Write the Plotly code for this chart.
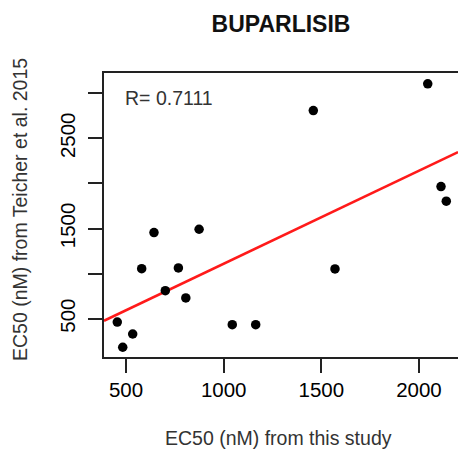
import numpy as np
import plotly.graph_objects as go

# Data
x_study = [455, 483, 534, 580, 643, 701, 768, 806, 874, 1044, 1164, 1459, 1570, 2045, 2113, 2140]
y_teicher = [463, 183, 330, 1055, 1455, 811, 1063, 730, 1492, 433, 433, 2808, 1052, 3105, 1965, 1803]
x_ticks = [500, 1000, 1500, 2000]
y_ticks = [500, 1000, 1500, 2000, 2500, 3000]
y_ticktext = ["500", "", "1500", "", "2500", ""]
title_text = "BUPARLISIB"
r_label = "R= 0.7111"

x_range = [387, 2200]
y_range = [75, 3225]

slope, intercept = np.polyfit(x_study, y_teicher, 1)
line_x = np.array(x_range, dtype=float)
line_y = slope * line_x + intercept

FONT = "Liberation Sans, Arial, sans-serif"

fig = go.Figure()
fig.add_trace(go.Scatter(x=line_x, y=line_y, mode="lines",
                         line=dict(color="#ff1a1a", width=2.5), hoverinfo="skip"))
fig.add_trace(go.Scatter(x=x_study, y=y_teicher, mode="markers",
                         marker=dict(color="black", size=9.5, line=dict(width=0))))

fig.update_layout(
    width=458, height=452,
    margin=dict(l=104, r=0, t=73, b=95),
    paper_bgcolor="white", plot_bgcolor="white",
    showlegend=False,
    font=dict(family=FONT, color="black", size=19),
    title=dict(text="<b>" + title_text + "</b>", x=0.5, xref="paper",
               y=1 - 24 / 452, yref="container", yanchor="middle", xanchor="center",
               font=dict(family=FONT, size=23, color="#111")),
)
fig.update_xaxes(range=x_range, tickvals=x_ticks, ticks="outside", ticklen=14,
                 tickwidth=1.5, tickcolor="#222", showline=True, linecolor="#222",
                 linewidth=1.5, mirror=True, showgrid=False, zeroline=False,
                 tickfont=dict(size=20.5, color="black"))
fig.update_yaxes(range=y_range, tickvals=y_ticks, ticktext=y_ticktext, ticks="outside",
                 ticklen=14, tickwidth=1.5, tickcolor="#222", showline=True,
                 linecolor="#222", linewidth=1.5, mirror=False, showgrid=False,
                 zeroline=False, tickangle=-90, ticklabelstandoff=5,
                 tickfont=dict(size=20.5, color="black"))

fig.add_annotation(text=r_label, xref="paper", yref="paper", x=(123 - 104) / 354,
                   y=(357 - 98) / 284, xanchor="left", yanchor="middle", showarrow=False,
                   font=dict(family=FONT, size=19.5, color="#333"))
fig.add_annotation(text="EC50 (nM) from this study", xref="paper", yref="paper",
                   x=0.494, y=-(438 - 357) / 284, xanchor="center", yanchor="middle",
                   showarrow=False, font=dict(family=FONT, size=19.5, color="#333"))
fig.add_annotation(text="EC50 (nM) from Teicher et al. 2015", xref="paper", yref="paper",
                   x=-(104 - 20) / 354, y=(357 - 210) / 284, xanchor="center",
                   yanchor="middle", textangle=-90, showarrow=False,
                   font=dict(family=FONT, size=19.5, color="#333"))

fig.write_html("out.html")
